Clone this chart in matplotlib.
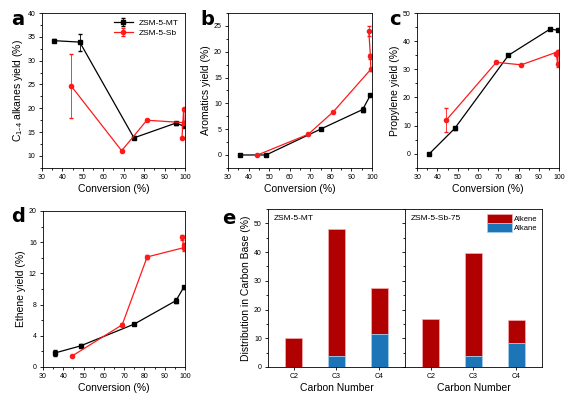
import matplotlib
matplotlib.use("Agg")
import matplotlib.pyplot as plt
import numpy as np
from matplotlib.ticker import AutoMinorLocator

# conversion (%) for each catalyst
conv_mt = [36.0, 48.5, 75.0, 95.5, 99.3]
conv_sb = [44.3, 69.0, 81.3, 99.5, 99.3, 98.5]

# a: C1-4 alkanes yield
alk_mt = [34.2, 33.9, 13.8, 16.9, 16.3]
alk_mt_err = [0.3, 1.8, 0.3, 0.3, 0.3]
alk_sb = [24.7, 11.1, 17.5, 17.0, 19.8, 13.8]
alk_sb_err = [6.7, 0.2, 0.2, 0.3, 0.3, 0.2]

# b: aromatics yield
aro_mt = [0.0, 0.0, 5.0, 8.8, 11.6]
aro_mt_err = [0.1, 0.1, 0.1, 0.4, 0.2]
aro_sb = [0.0, 4.0, 8.4, 16.6, 19.1, 24.0]
aro_sb_err = [0.1, 0.2, 0.2, 0.3, 0.5, 1.0]

# c: propylene yield
pro_mt = [0.0, 9.0, 35.0, 44.3, 43.9]
pro_mt_err = [0.2, 0.5, 0.3, 0.3, 0.3]
pro_sb = [11.9, 32.5, 31.6, 36.3, 31.8, 35.6]
pro_sb_err = [4.3, 0.3, 0.3, 0.5, 0.8, 0.4]

# d: ethene yield
eth_mt = [1.8, 2.7, 5.5, 8.5, 10.2]
eth_mt_err = [0.4, 0.2, 0.1, 0.3, 0.2]
eth_sb = [1.4, 5.4, 14.1, 15.3, 15.6, 16.6]
eth_sb_err = [0.1, 0.2, 0.3, 0.5, 0.3, 0.3]

# e: distribution in carbon base
carbons = ["C2", "C3", "C4"]
mt_alkane = [0.0, 3.8, 11.3]
mt_alkene = [10.2, 44.2, 16.2]
sb_alkane = [0.0, 3.7, 8.3]
sb_alkene = [16.7, 35.8, 7.9]

RED = "#ff1a1a"
DARKRED = "#b00000"
BLUE = "#1b75b6"

plt.rcParams["font.family"] = "Liberation Sans"
plt.rcParams["mathtext.default"] = "regular"
plt.rcParams["xtick.labelsize"] = 5
plt.rcParams["ytick.labelsize"] = 5
plt.rcParams["axes.linewidth"] = 0.6
plt.rcParams["xtick.major.width"] = 0.6
plt.rcParams["ytick.major.width"] = 0.6
plt.rcParams["xtick.major.size"] = 2.5
plt.rcParams["ytick.major.size"] = 2.5
plt.rcParams["xtick.minor.size"] = 1.5
plt.rcParams["ytick.minor.size"] = 1.5
plt.rcParams["xtick.major.pad"] = 2
plt.rcParams["ytick.major.pad"] = 2

fig = plt.figure(figsize=(5.66, 3.95), dpi=100)


def letter(x, y, s):
    fig.text(x, y, s, fontsize=14, fontweight="bold", family="DejaVu Sans")


def line_panel(rect, y_mt, e_mt, y_sb, e_sb, ylim, yticks, ylabel, legend=False):
    ax = fig.add_axes(rect)
    ax.errorbar(conv_mt, y_mt, yerr=e_mt, color="black", marker="s", ms=3,
                lw=0.9, elinewidth=0.6, capsize=1.5, label="ZSM-5-MT")
    ax.errorbar(conv_sb, y_sb, yerr=e_sb, color=RED, marker="o", ms=3,
                lw=0.9, elinewidth=0.6, capsize=1.5, label="ZSM-5-Sb")
    ax.set_xlim(30, 100)
    ax.set_ylim(*ylim)
    ax.set_xticks(range(30, 101, 10))
    ax.set_yticks(yticks)
    ax.xaxis.set_minor_locator(AutoMinorLocator(2))
    ax.yaxis.set_minor_locator(AutoMinorLocator(2))
    ax.set_xlabel("Conversion (%)", fontsize=7.5, labelpad=2)
    ax.set_ylabel(ylabel, fontsize=7.5, labelpad=2)
    if legend:
        ax.legend(loc="upper right", fontsize=6, frameon=False,
                  handlelength=2.2, borderaxespad=0.3, labelspacing=0.3)
    return ax


line_panel([0.074, 0.575, 0.253, 0.392], alk_mt, alk_mt_err, alk_sb, alk_sb_err,
           (7.5, 40), range(10, 41, 5), "C$_{1\u20134}$ alkanes yield (%)", legend=True)
line_panel([0.403, 0.575, 0.254, 0.392], aro_mt, aro_mt_err, aro_sb, aro_sb_err,
           (-2.5, 27.5), range(0, 26, 5), "Aromatics yield (%)")
line_panel([0.737, 0.575, 0.251, 0.392], pro_mt, pro_mt_err, pro_sb, pro_sb_err,
           (-5, 50), range(0, 51, 10), "Propylene yield (%)")
line_panel([0.076, 0.071, 0.251, 0.395], eth_mt, eth_mt_err, eth_sb, eth_sb_err,
           (0, 20), range(0, 21, 4), "Ethene yield (%)")

letter(0.020, 0.937, "a")
letter(0.354, 0.937, "b")
letter(0.688, 0.937, "c")
letter(0.020, 0.439, "d")
letter(0.392, 0.434, "e")

# panel e
x = np.arange(len(carbons))
ax1 = fig.add_axes([0.4735, 0.071, 0.242, 0.40])
ax2 = fig.add_axes([0.7155, 0.071, 0.242, 0.40], sharey=ax1)
for ax, alkane, alkene, name in [(ax1, mt_alkane, mt_alkene, "ZSM-5-MT"),
                                 (ax2, sb_alkane, sb_alkene, "ZSM-5-Sb-75")]:
    ax.bar(x, alkene, 0.4, bottom=alkane, color=DARKRED, edgecolor="#f4b0b0",
           linewidth=0.5, label="Alkene")
    ax.bar(x, alkane, 0.4, color=BLUE, edgecolor="#a8d0ee", linewidth=0.5,
           label="Alkane")
    ax.set_xticks(x)
    ax.set_xticklabels(carbons)
    ax.set_xlim(-0.6, 2.6)
    ax.set_ylim(0, 55)
    ax.set_xlabel("Carbon Number", fontsize=7.5, labelpad=2)
    ax.text(0.04, 0.96, name, transform=ax.transAxes, fontsize=6, va="top")
ax1.set_yticks(range(0, 51, 10))
ax1.yaxis.set_minor_locator(AutoMinorLocator(2))
ax1.set_ylabel("Distribution in Carbon Base (%)", fontsize=7.5, labelpad=2)
ax2.tick_params(labelleft=False)
ax2.legend(loc="upper right", fontsize=5.5, frameon=False, handlelength=3.2,
           handleheight=1.5, handletextpad=0.3, borderaxespad=0.2, labelspacing=0.0)

fig.savefig("out.png", dpi=100)
